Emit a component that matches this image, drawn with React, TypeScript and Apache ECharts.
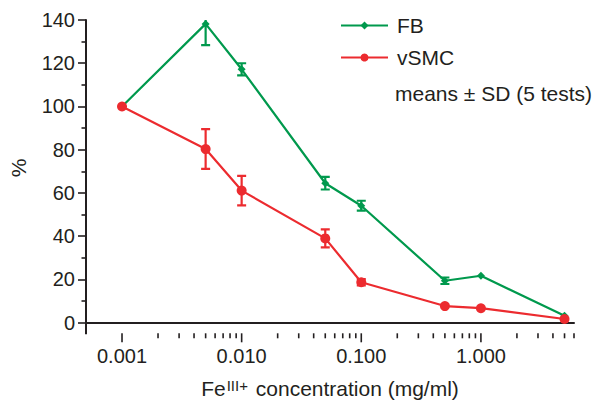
import React, { useEffect, useRef } from "react";
import * as echarts from "echarts";

// ---- data ----
const xValues = [0.001, 0.005, 0.01, 0.05, 0.1, 0.5, 1, 5];
const fbMeans = [100, 138.2, 117.2, 64.5, 54.1, 19.4, 21.7, 3.2];
const fbSD = [0, 9.8, 2.8, 2.9, 2.3, 1.5, 0, 0];
const vsmcMeans = [100, 80.3, 61.1, 39.0, 18.7, 7.7, 6.7, 1.7];
const vsmcSD = [0, 9.2, 6.8, 4.2, 1.5, 0, 0, 0];
const xMajorTicks = [0.001, 0.01, 0.1, 1];
const xMinorTicks = [
  0.002, 0.003, 0.004, 0.005, 0.006, 0.007, 0.008, 0.009,
  0.02, 0.03, 0.04, 0.05, 0.06, 0.07, 0.08, 0.09,
  0.2, 0.3, 0.4, 0.5, 0.6, 0.7, 0.8, 0.9,
  2, 3, 4, 5, 6,
];
const seriesNames = ["FB", "vSMC"];
const noteText = "means \u00b1 SD (5 tests)";
const xTitleParts = ["Fe", "III+", " concentration (mg/ml)"];

// ---- style ----
const GRID = { left: 86, right: 26, top: 20, bottom: 87.3 };
const H = 410;
const X_OFFSET = 10.6;
const INK = "#231f20";
const GREEN = "#00994d";
const RED = "#ec2b2f";
const FONT = "'Liberation Sans', Arial, Helvetica, sans-serif";

function errorSeries(means: number[], sds: number[], color: string) {
  return {
    type: "custom",
    clip: true,
    silent: true,
    z: 3,
    encode: { x: 0, y: 1 },
    data: xValues.map((x, i) => [x, means[i], sds[i]]).filter((d) => d[2] > 0),
    renderItem: (params: any, api: any) => {
      const x = api.value(0);
      const m = api.value(1);
      const s = api.value(2);
      const top = api.coord([x, m + s]);
      const bot = api.coord([x, m - s]);
      const hw = 4.5;
      const st = { stroke: color, lineWidth: 2.2 };
      return {
        type: "group",
        children: [
          { type: "line", shape: { x1: top[0], y1: top[1], x2: bot[0], y2: bot[1] }, style: st },
          { type: "line", shape: { x1: top[0] - hw, y1: top[1], x2: top[0] + hw, y2: top[1] }, style: st },
          { type: "line", shape: { x1: bot[0] - hw, y1: bot[1], x2: bot[0] + hw, y2: bot[1] }, style: st },
        ],
      };
    },
  };
}

function tickSeries(ticks: number[], len: number) {
  return {
    type: "custom",
    clip: false,
    silent: true,
    z: 1,
    encode: { x: 0, y: 1 },
    data: ticks.map((t) => [t, 0]),
    renderItem: (params: any, api: any) => {
      const x = api.coord([api.value(0), 0])[0];
      const cs = params.coordSys;
      const y0 = cs.y + cs.height + X_OFFSET;
      return {
        type: "line",
        shape: { x1: x, y1: y0, x2: x, y2: y0 + len },
        style: { stroke: INK, lineWidth: 1.6 },
      };
    },
  };
}

export default function App() {
  const ref = useRef<HTMLDivElement>(null);
  useEffect(() => {
    const chart = echarts.init(ref.current!, null, { renderer: "svg" });
    const option: any = {
      animation: false,
      textStyle: { fontFamily: FONT },
      grid: { left: GRID.left, right: GRID.right, top: GRID.top, bottom: GRID.bottom, containLabel: false },
      legend: {
        data: seriesNames,
        orient: "vertical",
        left: 340,
        top: 15,
        padding: 0,
        itemWidth: 47,
        itemHeight: 10,
        itemGap: 11,
        textStyle: { fontSize: 21, color: INK, fontFamily: FONT, padding: [0, 0, 0, 4] },
      },
      xAxis: {
        type: "log",
        logBase: 10,
        min: 0.0005,
        max: 6,
        offset: X_OFFSET,
        axisLine: { show: true, lineStyle: { color: INK, width: 2 } },
        axisTick: { show: false },
        minorTick: { show: false },
        splitLine: { show: false },
        axisLabel: {
          color: INK,
          fontSize: 20,
          fontFamily: FONT,
          margin: 13,
          showMinLabel: false,
          showMaxLabel: false,
          formatter: (v: number) => {
            const l = Math.log10(v);
            if (Math.abs(l - Math.round(l)) < 1e-6 && v > 0.0009 && v < 1.1) return v.toFixed(3);
            return "";
          },
        },
        name: `{n|${xTitleParts[0]}}{s|${xTitleParts[1]}}{n|${xTitleParts[2]}}`,
        nameLocation: "middle",
        nameGap: 45,
        nameTextStyle: {
          rich: {
            n: { fontSize: 21, color: INK, fontFamily: FONT },
            s: { fontSize: 15, color: INK, fontFamily: FONT, verticalAlign: "top", padding: [0, 2, 0, 1] },
          },
        },
      },
      yAxis: {
        type: "value",
        min: 0,
        max: 140,
        interval: 20,
        axisLine: { show: true, lineStyle: { color: INK, width: 2 } },
        axisTick: { show: true, length: 8, lineStyle: { color: INK, width: 1.6 } },
        minorTick: { show: true, splitNumber: 2, length: 4.5, lineStyle: { color: INK, width: 1.6 } },
        splitLine: { show: false },
        minorSplitLine: { show: false },
        axisLabel: { color: INK, fontSize: 20, fontFamily: FONT, margin: 11 },
      },
      graphic: [
        {
          type: "line",
          shape: { x1: GRID.left, y1: H - GRID.bottom - 1, x2: GRID.left, y2: H - GRID.bottom + X_OFFSET + 1 },
          style: { stroke: INK, lineWidth: 2 },
        },
        {
          type: "text",
          x: 18,
          y: 168,
          rotation: Math.PI / 2,
          style: { text: "%", fontSize: 21, fill: INK, fontFamily: FONT, align: "center", verticalAlign: "middle" },
        },
        {
          type: "text",
          x: 395,
          y: 93,
          style: { text: noteText, fontSize: 21, fill: INK, fontFamily: FONT, align: "left", verticalAlign: "middle" },
        },
      ],
      series: [
        tickSeries(xMajorTicks, 9),
        tickSeries(xMinorTicks, 5),
        {
          name: seriesNames[0],
          type: "line",
          z: 4,
          data: xValues.map((x, i) => [x, fbMeans[i]]),
          symbol: "diamond",
          symbolSize: 8,
          lineStyle: { color: GREEN, width: 2.2 },
          itemStyle: { color: GREEN },
        },
        errorSeries(fbMeans, fbSD, GREEN),
        {
          name: seriesNames[1],
          type: "line",
          z: 5,
          data: xValues.map((x, i) => [x, vsmcMeans[i]]),
          symbol: "circle",
          symbolSize: 10,
          lineStyle: { color: RED, width: 2.2 },
          itemStyle: { color: RED },
        },
        errorSeries(vsmcMeans, vsmcSD, RED),
      ],
    };
    chart.setOption(option);
    return () => chart.dispose();
  }, []);
  return <div ref={ref} style={{ position: "absolute", left: 0, top: 0, width: 600, height: 410 }} />;
}
